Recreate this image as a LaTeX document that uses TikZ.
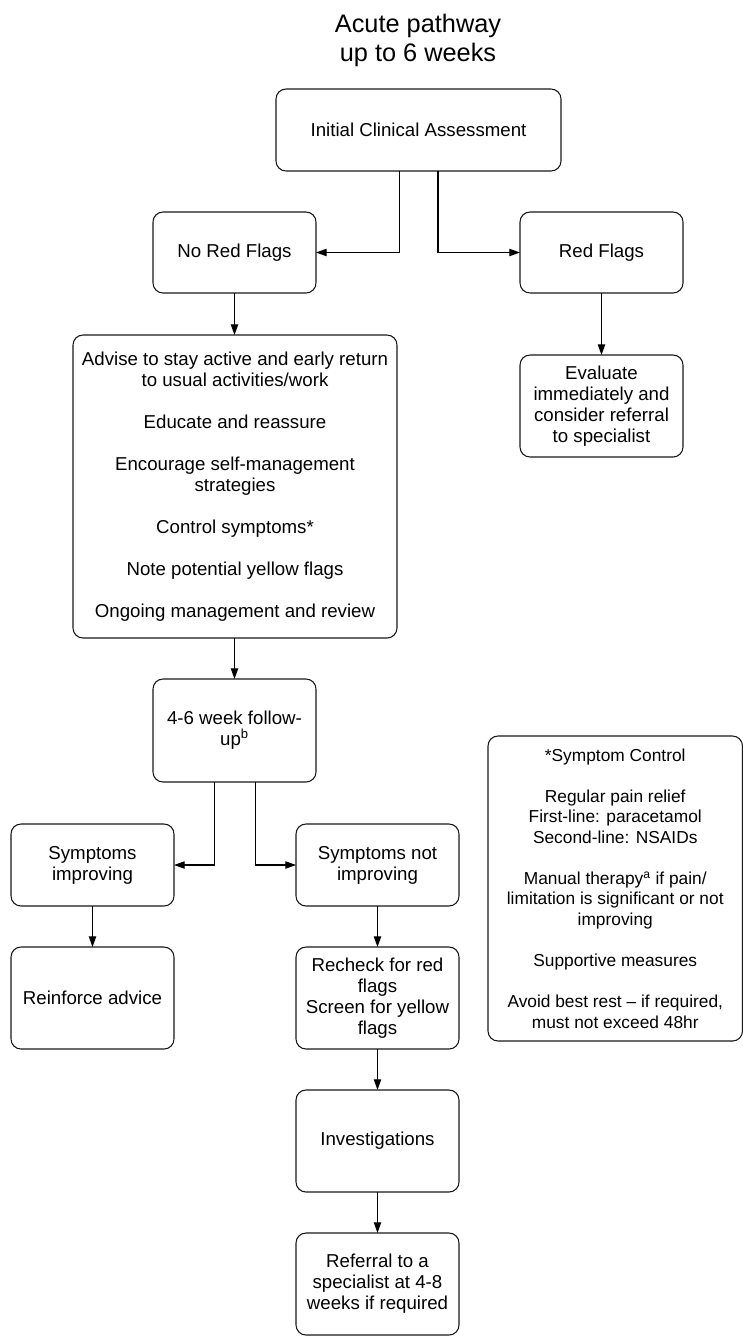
\documentclass[tikz,border=0pt]{standalone}
\usepackage{fontspec}
\setmainfont{Liberation Sans}
\usetikzlibrary{arrows.meta}
\begin{document}
\begin{tikzpicture}[x=0.75pt,y=-0.75pt,
  box/.style={draw=black!90, line width=0.8pt, rounded corners=7.5pt, inner sep=0pt, outer sep=0pt, align=center, font=\fontsize{14}{15.75}\selectfont},
  sz/.style 2 args={minimum width=#1*0.75pt, minimum height=#2*0.75pt},
  small/.style={font=\fontsize{13}{15.4}\selectfont},
  arr/.style={draw=black, line width=0.8pt, -{Triangle[length=8pt,width=5.5pt]}},
  ttl/.style={align=center, inner sep=0pt, font=\fontsize{19}{21.75}\selectfont}]
\useasboundingbox (0,0) rectangle (743,1336);
\node[ttl] (title) at (418,40) {Acute pathway\\up to 6 weeks};
\node[box, sz={285}{82}] (init) at (418.5,130) {Initial Clinical Assessment};
\node[box, sz={163}{81}] (nored) at (234.5,252.5) {No Red Flags};
\node[box, sz={163}{81}] (red) at (601.5,252.5) {Red Flags};
\node[box, sz={163}{102}] (eval) at (601.5,406) {Evaluate\\immediately and\\consider referral\\to specialist};
\node[box, sz={324}{303}] (advise) at (235,486.5) {Advise to stay active and early return\\to usual activities/work\\[15.75pt]Educate and reassure\\[15.75pt]Encourage self-management\\strategies\\[15.75pt]Control symptoms*\\[15.75pt]Note potential yellow flags\\[15.75pt]Ongoing management and review};
\node[box, sz={163}{103}] (follow) at (234.5,730.5) {4-6 week follow-\\up\textsuperscript{b}};
\node[box, sz={163}{82}] (simp) at (92.5,865) {Symptoms\\improving};
\node[box, sz={163}{82}] (snot) at (377.5,865) {Symptoms not\\improving};
\node[box, sz={163}{102}] (reinf) at (92.5,998) {Reinforce advice};
\node[box, sz={163}{102}] (recheck) at (377.5,998) {Recheck for red\\flags\\Screen for yellow\\flags};
\node[box, sz={163}{102}] (invest) at (377.5,1141) {Investigations};
\node[box, sz={163}{102}] (refer) at (377.5,1284) {Referral to a\\specialist at 4-8\\weeks if required};
\node[box, small, sz={254.5}{305}] (symctl) at (615.25,888.5) {*Symptom Control\\[15.4pt]Regular pain relief\\First-line: paracetamol\\Second-line: NSAIDs\\[15.4pt]Manual therapy\textsuperscript{a} if pain/\\limitation is significant or not\\improving\\[15.4pt]Supportive measures\\[15.4pt]Avoid best rest – if required,\\must not exceed 48hr};
\draw[arr] ([xshift=-14.6pt]init.south) |- (nored.east);
\draw[arr] ([xshift=14.6pt]init.south) |- (red.west);
\draw[arr] (nored.south) -- (nored.south |- advise.north);
\draw[arr] (red.south) -- (eval.north);
\draw[arr] (advise.south -| follow.north) -- (follow.north);
\draw[arr] ([xshift=-15.2pt]follow.south) |- (simp.east);
\draw[arr] ([xshift=15.5pt]follow.south) |- (snot.west);
\draw[arr] (simp.south) -- (reinf.north);
\draw[arr] (snot.south) -- (recheck.north);
\draw[arr] (recheck.south) -- (invest.north);
\draw[arr] (invest.south) -- (refer.north);
\end{tikzpicture}
\end{document}
